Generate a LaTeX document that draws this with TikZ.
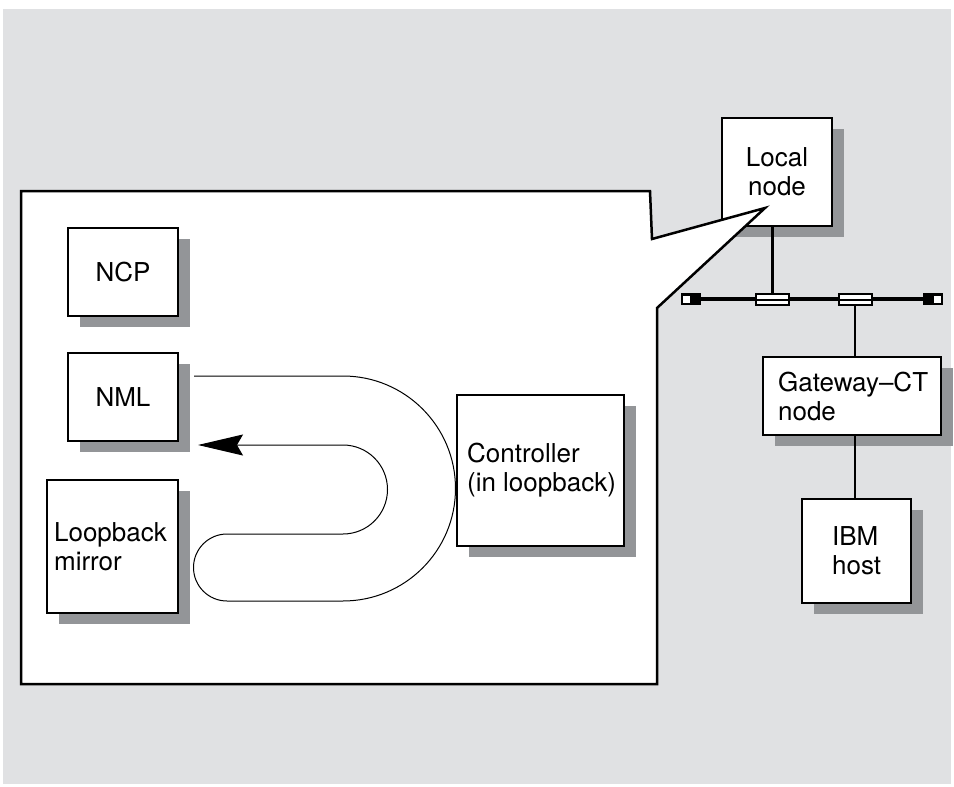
\documentclass[tikz,border=0pt]{standalone}
\usepackage{fontspec}
\setmainfont{TeX Gyre Heros}
\usetikzlibrary{shadows,arrows.meta}
\definecolor{bggray}{RGB}{224,225,227}
\definecolor{shgray}{RGB}{147,149,152}
\begin{document}
\begin{tikzpicture}[x=1pt,y=-1pt,
  font=\fontsize{26}{29}\selectfont,
  box/.style={draw=black, line width=2.2pt, fill=white, inner sep=0pt,
     drop shadow={shadow xshift=12pt, shadow yshift=-11pt, fill=shgray, opacity=1}},
  lbl/.style={inner sep=0pt, align=left, anchor=west},
  link/.style={line width=2.4pt},
  loopline/.style={line width=1pt},
  term/.style={fill=black, minimum width=20pt, minimum height=12pt, inner sep=0pt},
  hole/.style={fill=white, minimum size=7pt, inner sep=0pt},
  tap/.style={draw=black, line width=2pt, fill=white, minimum width=33pt, minimum height=11pt, inner sep=0pt},
  callout/.style={draw=black, line width=2.5pt, fill=white}
]
\useasboundingbox (0,0) rectangle (954,787);
\fill[bggray] (3,9) rectangle (951,784);

% local node (under the callout)
\node[box, minimum width=110pt, minimum height=108pt, align=center] (local) at (777,172) {Local\\node};

% callout
\coordinate (tip) at (765,208);
\draw[callout] (21,191) -- (650,191) -- (652,239) -- (tip) -- (657,308) -- (657,684) -- (21,684) -- cycle;

% inner boxes
\node[box, minimum width=110pt, minimum height=88pt] (ncp) at (123,272) {NCP};
\node[box, minimum width=110pt, minimum height=88pt] (nml) at (123,397) {NML};
\node[box, minimum width=131pt, minimum height=133pt] (mirror) at (112.5,546.5) {};
\node[lbl] (mirrortxt) at ([xshift=8pt]mirror.west) {Loopback\\mirror};
\node[box, minimum width=167pt, minimum height=151pt] (ctrl) at (540.5,470.5) {};
\node[lbl] (ctrltxt) at ([xshift=11pt]ctrl.west) {Controller\\(in loopback)};

% loop path
\draw[loopline, -{Stealth[length=45pt, width=21pt, inset=6pt]}]
  (194,376) -- (343,376) arc[start angle=-90, end angle=90, radius=112.5]
  -- (227,601) arc[start angle=90, end angle=270, radius=33.5]
  -- (343,534) arc[start angle=90, end angle=-90, radius=44.5]
  -- (198,445);

% right side boxes
\node[box, minimum width=178pt, minimum height=78pt] (gw) at (852,396) {};
\node[lbl] (gwtxt) at ([xshift=16pt]gw.west) {Gateway–CT\\node};
\node[box, minimum width=109pt, minimum height=104pt] (ibm) at (856.5,551) {};
\node[lbl] (ibmtxt) at ([xshift=31pt]ibm.west) {IBM\\host};

% bus
\node[term] (tl) at (691,299) {};
\node[hole] (tlh) at ([xshift=5.5pt]tl.west) {};
\node[term] (tr) at (933,299) {};
\node[hole] (trh) at ([xshift=-5.5pt]tr.east) {};
\draw[line width=3.2pt] (tl.east) -- (tr.west);
\node[tap] (tap1) at (772.5,299.5) {};
\draw[line width=2pt] (tap1.west) -- (tap1.east);
\node[tap] (tap2) at (855,299.5) {};
\draw[line width=2pt] (tap2.west) -- (tap2.east);

% connectors
\draw[link] (tap1.north) -- (tap1.north |- local.south);
\draw[link] (tap2.south) -- (tap2.south |- gw.north);
\draw[link] (tap2.south |- gw.south) -- (tap2.south |- ibm.north);
\end{tikzpicture}
\end{document}
